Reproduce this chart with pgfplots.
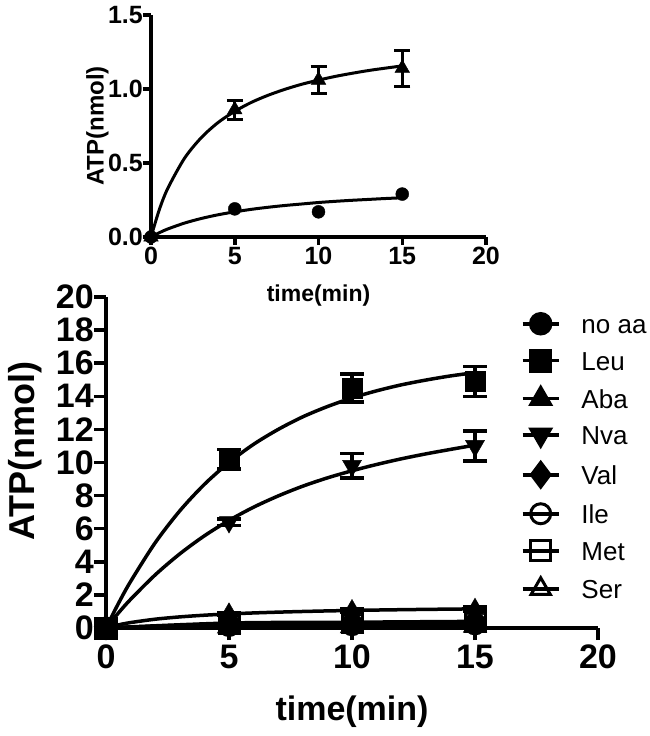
\documentclass[border=0pt]{standalone}
\usepackage{pgfplots}
\pgfplotsset{compat=1.18}
\usepackage{fontspec}
\setmainfont{Liberation Sans}

\pgfplotsset{
  gp/.style={
    scale only axis, axis x line=bottom, axis y line=left,
    axis line style={-, line width=3.5pt},
    every tick/.style={line width=3.5pt, black},
    tick align=outside, clip=false,
    xmin=0, xmax=20, xtick={0,5,10,15,20},
    /pgf/number format/assume math mode=true,
  },
  curve/.style={smooth, line width=3.5pt, black, no marks},
}

% main panel data: x, y, error
\pgfplotstableread{
x y e
0 0 0
5 10.2 0.6
10 14.5 0.85
15 14.9 0.9
}\leu
\pgfplotstableread{
x y e
0 0 0
5 6.4 0.2
10 9.8 0.75
15 11.0 0.9
}\nva
\pgfplotstableread{
x y e
0 0 0
5 0.86 0.065
10 1.06 0.09
15 1.14 0.12
}\aba
\pgfplotstableread{
x y e
0 0 0
5 0.19 0.02
10 0.17 0.02
15 0.29 0.02
}\noaa
\pgfplotstableread{
x y
0 0
5 0.25
10 0.30
15 0.35
}\val
\pgfplotstableread{
x y
0 0
5 0.15
10 0.20
15 0.25
}\ile
\pgfplotstableread{
x y
0 0
5 0.30
10 0.35
15 0.40
}\met
\pgfplotstableread{
x y
0 0
5 0.10
10 0.12
15 0.15
}\ser

\begin{document}
\begin{tikzpicture}
\useasboundingbox (0,0) rectangle (650pt,736pt);

% ---------- main panel ----------
\begin{axis}[gp,
  at={(106pt,108pt)}, anchor=south west,
  width=492pt, height=331pt,
  ymin=0, ymax=20, ytick={0,2,...,20},
  major tick length=12pt,
  tick label style={font=\fontsize{34}{38}\selectfont\bfseries},
  xticklabel style={inner sep=5pt},
  yticklabel style={inner sep=0pt},
  xlabel={time(min)}, ylabel={ATP(nmol)},
  xlabel style={font=\fontsize{34}{40}\selectfont\bfseries,
    at={(axis description cs:0.5,0)}, anchor=center, yshift=-84pt},
  ylabel style={font=\fontsize{36}{40}\selectfont\bfseries,
    at={(axis description cs:-0.165,0.535)}, anchor=center},
  legend style={at={(rel axis cs:0.843,0.95)}, anchor=north west,
    draw=none, fill=none, inner sep=0pt, row sep=17pt,
    font=\fontsize{26}{30}\selectfont,
    nodes={inner sep=0pt, text height=19pt, text depth=0pt}},
  legend cell align=left,
  legend image code/.code={%
    \draw[mark repeat=2, mark phase=2, line width=3.5pt]
      plot coordinates {(-2pt,0pt) (16pt,0pt) (34pt,0pt)} node[right=20pt] {};},
]
% fitted curves
\addplot[curve, forget plot] coordinates {
 (0,0) (0.5,1.47) (1,2.81) (2,5.15) (3,7.08) (4,8.68) (5,10.0) (6,11.1)
 (7,12.0) (8,12.76) (9,13.38) (10,13.9) (11,14.33) (12,14.69) (13,14.98)
 (14,15.23) (15,15.43)};
\addplot[curve, forget plot] coordinates {
 (0,0) (0.5,0.90) (1,1.73) (2,3.21) (3,4.48) (4,5.57) (5,6.5) (6,7.30)
 (7,7.98) (8,8.57) (9,9.07) (10,9.5) (11,9.88) (12,10.22) (13,10.52)
 (14,10.79) (15,11.05)};
\addplot[curve, forget plot] coordinates {
 (0,0) (0.5,0.186) (1,0.328) (2,0.532) (3,0.671) (4,0.773) (5,0.849)
 (6,0.910) (7,0.958) (8,0.998) (9,1.032) (10,1.060) (11,1.085) (12,1.106)
 (13,1.125) (14,1.141) (15,1.156)};
\addplot[curve, forget plot] table[x=x,y=y] {\noaa};
\addplot[curve, forget plot] table[x=x,y=y] {\val};
\addplot[curve, forget plot] table[x=x,y=y] {\ile};
\addplot[curve, forget plot] table[x=x,y=y] {\met};
\addplot[curve, forget plot] table[x=x,y=y] {\ser};
% data points, open ones first
\addplot[only marks, mark=o, mark size=10pt, mark options={line width=3pt}, forget plot] table[x=x,y=y] {\ile};
\addplot[only marks, mark=square, mark size=10pt, mark options={line width=3pt}, forget plot] table[x=x,y=y] {\met};
\addplot[only marks, mark=triangle, mark size=11pt, mark options={line width=3pt}, forget plot] table[x=x,y=y] {\ser};
\addplot[only marks, mark=diamond*, mark size=12pt, forget plot] table[x=x,y=y] {\val};
\addplot[only marks, mark=*, mark size=10pt, forget plot] table[x=x,y=y] {\noaa};
\addplot[only marks, mark=triangle*, mark size=11pt, forget plot,
  error bars/.cd, y dir=both, y explicit,
  error bar style={line width=3.5pt},
  error mark options={rotate=90, mark size=12pt, line width=3.5pt}]
  table[x=x,y=y,y error=e] {\aba};
\addplot[only marks, mark=triangle*, mark size=11pt, mark options={rotate=180}, forget plot,
  error bars/.cd, y dir=both, y explicit,
  error bar style={line width=3.5pt},
  error mark options={rotate=90, mark size=12pt, line width=3.5pt}]
  table[x=x,y=y,y error=e] {\nva};
\addplot[only marks, mark=square*, mark size=10pt, forget plot,
  error bars/.cd, y dir=both, y explicit,
  error bar style={line width=3.5pt},
  error mark options={rotate=90, mark size=12pt, line width=3.5pt}]
  table[x=x,y=y,y error=e] {\leu};
% legend
\addlegendimage{black, mark=*, mark size=10pt}
\addlegendentry{no aa}
\addlegendimage{black, mark=square*, mark size=10pt}
\addlegendentry{Leu}
\addlegendimage{black, mark=triangle*, mark size=11pt}
\addlegendentry{Aba}
\addlegendimage{black, mark=triangle*, mark size=11pt, mark options={rotate=180}}
\addlegendentry{Nva}
\addlegendimage{black, mark=diamond*, mark size=12pt}
\addlegendentry{Val}
\addlegendimage{black, mark=o, mark size=10pt, mark options={line width=3pt}}
\addlegendentry{Ile}
\addlegendimage{black, mark=square, mark size=10pt, mark options={line width=3pt}}
\addlegendentry{Met}
\addlegendimage{black, mark=triangle, mark size=11pt, mark options={line width=3pt}}
\addlegendentry{Ser}
\end{axis}

% ---------- inset ----------
\begin{axis}[gp,
  at={(151pt,499pt)}, anchor=south west,
  width=335pt, height=222pt,
  ymin=0, ymax=1.5, ytick={0,0.5,1,1.5},
  major tick length=8pt,
  tick label style={font=\fontsize{25}{28}\selectfont\bfseries},
  yticklabel style={inner sep=0pt, /pgf/number format/.cd, fixed, fixed zerofill, precision=1},
  xticklabel style={inner sep=2pt},
  xlabel={time(min)}, ylabel={ATP(nmol)},
  xlabel style={font=\fontsize{23}{26}\selectfont\bfseries,
    at={(axis description cs:0.5,0)}, anchor=center, yshift=-59pt},
  ylabel style={font=\fontsize{24}{26}\selectfont\bfseries,
    at={(axis description cs:-0.16,0.5)}, anchor=center},
]
\addplot[curve, line width=3pt] coordinates {
 (0,0) (0.5,0.186) (1,0.328) (2,0.532) (3,0.671) (4,0.773) (5,0.849)
 (6,0.910) (7,0.958) (8,0.998) (9,1.032) (10,1.060) (11,1.085) (12,1.106)
 (13,1.125) (14,1.141) (15,1.156)};
\addplot[curve, line width=3pt] coordinates {
 (0,0) (0.5,0.029) (1,0.054) (2,0.094) (3,0.125) (4,0.150) (5,0.170)
 (6,0.187) (7,0.201) (8,0.213) (9,0.223) (10,0.233) (11,0.241) (12,0.248)
 (13,0.254) (14,0.260) (15,0.265)};
\addplot[only marks, mark=*, mark size=6.5pt] table[x=x,y=y] {\noaa};
\addplot[only marks, mark=triangle*, mark size=8.5pt,
  error bars/.cd, y dir=both, y explicit,
  error bar style={line width=3pt},
  error mark options={rotate=90, mark size=8pt, line width=3pt}]
  table[x=x,y=y,y error=e] {\aba};
\end{axis}
\end{tikzpicture}
\end{document}
